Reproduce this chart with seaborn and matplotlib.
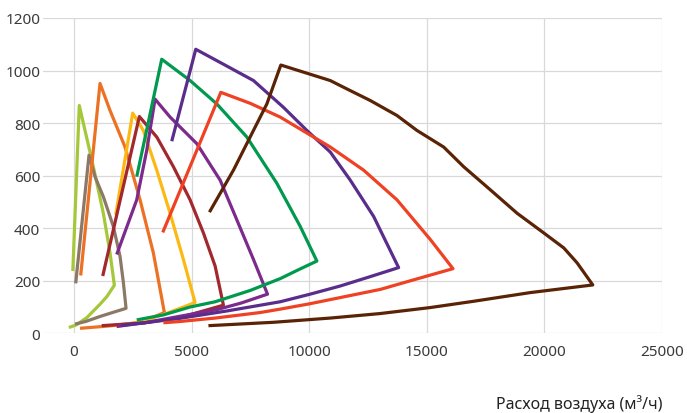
import numpy as np
import pandas as pd
import seaborn as sns
import matplotlib
matplotlib.use("Agg")
import matplotlib.pyplot as plt

# Fan curves: start -> peak -> max pressure side down to corner -> system curve back
yg_x = [-50, 225, 822, 1247, 1532, 1716, 1400, 1100, 550, 100, -220]
yg_y = [237, 867, 634, 457, 306, 183, 140, 110, 60, 32, 22]

taupe_x = [72, 638, 894, 1247, 1672, 1957, 2100, 2213, 1600, 1106, 500, 43]
taupe_y = [190, 678, 596, 520, 407, 293, 193, 95, 78, 64, 45, 35]

orange_x = [284, 1106, 1532, 2170, 2809, 3374, 3843, 3200, 2667, 1500, 255]
orange_y = [220, 951, 848, 709, 508, 306, 79, 55, 40, 28, 19]

yellow_x = [1774, 2496, 2949, 3518, 4085, 4651, 5149, 4000, 3000, 1800]
yellow_y = [451, 838, 772, 621, 457, 281, 117, 78, 48, 25]

dred_x = [1221, 2779, 3519, 4226, 4936, 5502, 6000, 6353, 4511, 3000, 1177]
dred_y = [218, 825, 747, 634, 508, 382, 256, 107, 60, 40, 29]

purple_x = [1816, 2667, 3094, 3447, 4085, 5220, 6213, 6922, 7630, 8227, 7100, 6071, 4511, 3000, 1816]
purple_y = [300, 508, 697, 891, 823, 722, 583, 432, 281, 149, 115, 90, 65, 40, 26]

green_x = [2667, 3730, 4936, 6071, 7348, 8624, 9617, 10326, 9500, 8766, 7489, 6000, 4936, 3800, 2667]
green_y = [596, 1043, 962, 873, 747, 571, 407, 275, 240, 208, 163, 120, 100, 70, 51]

indigo_x = [4156, 5177, 6355, 7630, 8906, 9901, 10894, 11745, 12738, 13801, 12500, 11319, 10000,
            8766, 6500, 4511, 3000, 2000]
indigo_y = [731, 1081, 1024, 962, 860, 772, 690, 583, 445, 250, 213, 180, 148,
            120, 85, 57, 40, 30]

red_x = [3774, 6243, 7500, 8766, 10894, 12312, 13731, 15149, 16113, 14500, 13021, 11319, 10000,
         8766, 7915, 6000, 4511, 3800]
red_y = [384, 917, 875, 823, 709, 621, 508, 357, 246, 205, 167, 136, 112,
         92, 79, 58, 45, 40]

brown_x = [5758, 6780, 7489, 8200, 8794, 10894, 11604, 12596, 13731, 14582, 15716, 16567, 17702,
           18838, 19972, 20823, 21391, 22057, 19404, 17000, 15149, 13000, 10894, 8500, 5716]
brown_y = [461, 621, 747, 873, 1021, 962, 930, 886, 829, 772, 709, 634, 546,
           457, 382, 325, 268, 184, 155, 122, 98, 75, 58, 42, 29]

series = [
    ("c1", yg_x, yg_y, "#a5c83b"),
    ("c2", taupe_x, taupe_y, "#8c7866"),
    ("c3", orange_x, orange_y, "#ec7124"),
    ("c4", yellow_x, yellow_y, "#fdb913"),
    ("c5", dred_x, dred_y, "#a3282e"),
    ("c6", purple_x, purple_y, "#7d2a8d"),
    ("c7", green_x, green_y, "#00994e"),
    ("c8", indigo_x, indigo_y, "#5a2d8c"),
    ("c9", red_x, red_y, "#ef4123"),
    ("c10", brown_x, brown_y, "#5a2306"),
]

x_ticks = [0, 5000, 10000, 15000, 20000, 25000]
y_ticks = [0, 200, 400, 600, 800, 1000, 1200]

sns.set_theme(style="whitegrid")
plt.rcParams["font.family"] = ["Noto Sans", "DejaVu Sans"]

fig = plt.figure(figsize=(6.87, 4.14), dpi=100)
ax = fig.add_axes([43 / 687, 1 - 334.3 / 414, (662 - 43) / 687, (334.3 - 19) / 414])

rows = []
for name, xs, ys, _ in series:
    for i, (x, y) in enumerate(zip(xs, ys)):
        rows.append({"series": name, "order": i, "x": x, "y": y})
df = pd.DataFrame(rows)
palette = {name: c for name, _, _, c in series}

# draw one by one so the later (bigger) fans sit on top
for name, _, _, _ in series:
    sub = df[df["series"] == name]
    sns.lineplot(data=sub, x="x", y="y", sort=False, estimator=None, color=palette[name],
                 lw=2.3, ax=ax, legend=False)
for line in ax.lines:
    line.set_solid_joinstyle("round")
    line.set_solid_capstyle("butt")

ax.set_xlim(-1318, 25000)
ax.set_ylim(0, 1200)
ax.set_xticks(x_ticks)
ax.set_yticks(y_ticks)
ax.set_xticklabels([str(t) for t in x_ticks])
ax.set_yticklabels([str(t) for t in y_ticks])
ax.grid(True, color="#d9d9d9", lw=0.9)
ax.set_axisbelow(True)
for s in ax.spines.values():
    s.set_visible(False)
ax.tick_params(axis="both", length=0, labelsize=11, labelcolor="#3a3a3a")
ax.tick_params(axis="x", pad=8)
ax.tick_params(axis="y", pad=2)
ax.set_xlabel("")
ax.set_ylabel("")

fig.text(662 / 687, 1 - 404 / 414, "Расход воздуха (м³/ч)", ha="right", va="center",
         fontsize=11.5, fontweight="semibold", color="#222222")

fig.savefig("out.png", dpi=100)
